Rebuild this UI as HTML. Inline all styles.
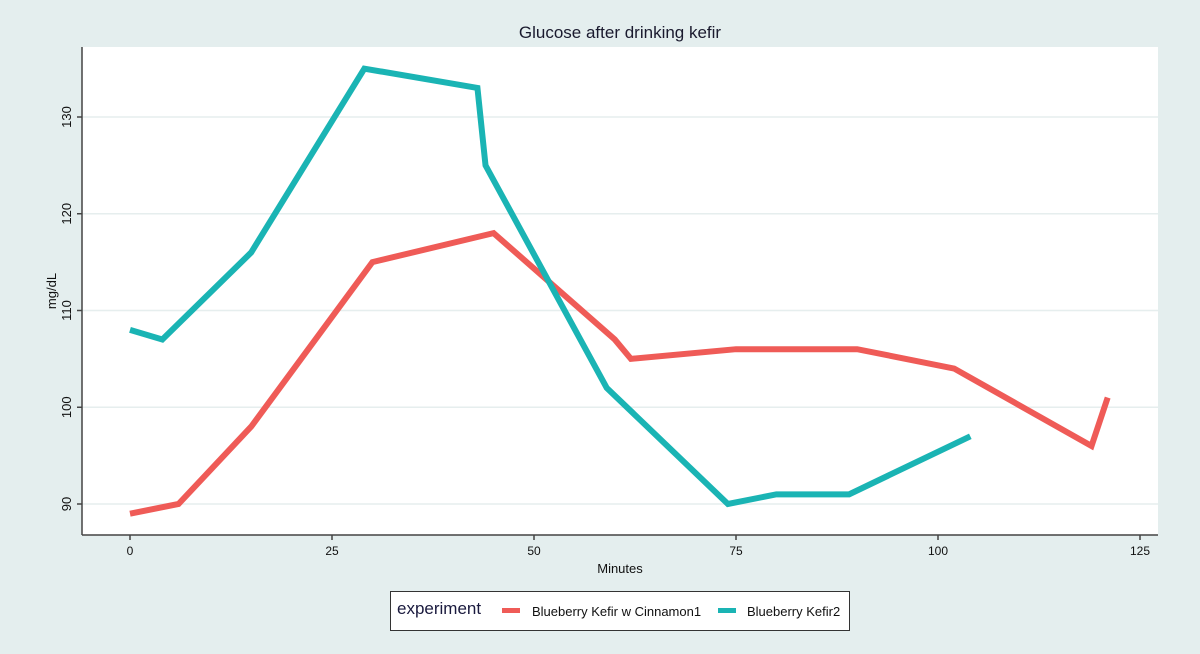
<!DOCTYPE html>
<html><head><meta charset="utf-8"><style>
body{margin:0;background:#e4eeee;}
svg{display:block;font-family:"Liberation Sans",sans-serif;}
</style></head><body>
<svg id="chart" width="1200" height="654">
<rect x="0" y="0" width="1200" height="654" fill="#e4eeee"/>
<text x="620" y="38" text-anchor="middle" font-size="17" fill="#1a1a2e">Glucose after drinking kefir</text>
<rect x="82" y="47" width="1076" height="488" fill="#fff"/>
<g id="grid"></g>
<g id="axes"></g>
<g id="series"></g>
<text x="620" y="573" text-anchor="middle" font-size="13" fill="#111">Minutes</text>
<text transform="translate(56,291) rotate(-90)" text-anchor="middle" font-size="13" fill="#111">mg/dL</text>
<g>
<rect x="390.5" y="591.5" width="459" height="39" fill="#fff" stroke="#333" stroke-width="1"/>
<text x="397" y="614" font-size="17" fill="#1a1a3e">experiment</text>
<rect x="502" y="608" width="18" height="5" fill="#ef5b57"/>
<text x="532" y="616" font-size="13" fill="#111">Blueberry Kefir w Cinnamon1</text>
<rect x="718" y="608" width="18" height="5" fill="#1ab4b4"/>
<text x="747" y="616" font-size="13" fill="#111">Blueberry Kefir2</text>
</g>
</svg>
<script>
const xTicks=[0,25,50,75,100,125];
const yTicks=[90,100,110,120,130];
const redX=[0,6,15,30,45,60,62,75,90,102,119,121];
const redY=[89,90,98,115,118,107,105,106,106,104,96,101];
const tealX=[0,4,15,29,43,44,59,74,80,89,104];
const tealY=[108,107,116,135,133,125,102,90,91,91,97];
const NS="http://www.w3.org/2000/svg";
const xs=v=>130+v*8.08;
const ys=v=>504-(v-90)*9.675;
function mk(tag,attrs,parent){const e=document.createElementNS(NS,tag);for(const k in attrs)e.setAttribute(k,attrs[k]);document.getElementById(parent).appendChild(e);return e;}
yTicks.forEach(t=>{
 const g=mk('line',{x1:82,x2:1158,y1:ys(t),y2:ys(t),stroke:'#e6eeee','stroke-width':1.5},'grid');
 
 
 const tk=mk('line',{x1:77,x2:82,y1:ys(t),y2:ys(t),stroke:'#444','stroke-width':1.5},'axes');
 
 
 const l=mk('text',{transform:`translate(71,${ys(t)}) rotate(-90)`,'text-anchor':'middle','font-size':13,fill:'#111'},'axes');
 l.textContent=t;
 
 
});
const ya=mk('line',{x1:82,x2:82,y1:47,y2:535,stroke:'#444','stroke-width':1.5},'axes');


const xa=mk('line',{x1:82,x2:1158,y1:535,y2:535,stroke:'#444','stroke-width':1.5},'axes');


xTicks.forEach(t=>{
 const tk=mk('line',{x1:xs(t),x2:xs(t),y1:535,y2:540,stroke:'#444','stroke-width':1.5},'axes');
 
 
 const l=mk('text',{x:xs(t),y:555,'text-anchor':'middle','font-size':12,fill:'#111'},'axes');
 l.textContent=t;
 
 
});
function line(X,Y,color,name){
 const p=mk('polyline',{points:X.map((x,i)=>xs(x)+','+ys(Y[i])).join(' '),fill:'none',stroke:color,'stroke-width':6,'stroke-linejoin':'miter'},'series');
 
 
}
line(redX,redY,'#ef5b57','line-cinnamon1');
line(tealX,tealY,'#1ab4b4','line-kefir2');
</script>
</body></html>
